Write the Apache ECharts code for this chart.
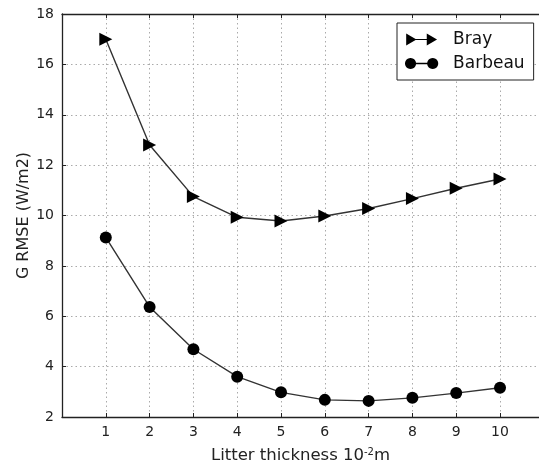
<!DOCTYPE html>
<html><head><meta charset="utf-8">
<script src="https://cdn.jsdelivr.net/npm/echarts@6/dist/echarts.min.js"></script>
<style>html,body{margin:0;padding:0;background:#fff}#c{width:539px;height:469px}</style>
</head><body><div id="c"></div>
<script>
const thickness = [1,2,3,4,5,6,7,8,9,10];
const bray = [17.0,12.8,10.75,9.93,9.78,9.98,10.28,10.67,11.08,11.45];
const barbeau = [9.13,6.37,4.69,3.6,2.98,2.68,2.64,2.76,2.95,3.16];
const FONT = 'DejaVu Sans';
const chart = echarts.init(document.getElementById('c'), null, {renderer:'canvas'});
const gridLine = {show:true, lineStyle:{color:'#aaa', type:[1.5,3], width:1}};
function disc(cx, cy, r){
  let s = '';
  for (let k = 0; k < 24; k++) {
    const a = k / 24 * Math.PI * 2;
    s += (k ? ' L' : 'M') + (cx + r * Math.cos(a)).toFixed(2) + ',' + (cy + r * Math.sin(a)).toFixed(2);
  }
  return s + ' Z ';
}
const triIcon = 'path://M0,0 L12,7 L0,14 Z M6,6.3 L30,6.3 L30,7.7 L6,7.7 Z M24,0 L36,7 L24,14 Z';
const dotIcon = 'path://' + disc(6,7,6) + 'M6,6.3 L30,6.3 L30,7.7 L6,7.7 Z ' + disc(30,7,6) + 'M0,0.5 L0.01,0.5 Z M0,13.5 L0.01,13.5 Z';
const XMAX = 10.89;
chart.setOption({
  animation:false,
  backgroundColor:'#fff',
  grid:{left:62, top:14, right:0, bottom:47},
  legend:{
    left:397, top:23, orient:'vertical', itemWidth:37, itemHeight:12, itemGap:7,
    backgroundColor:'#fff', borderColor:'#222', borderWidth:1, padding:[8,9,8,8],
    borderRadius:0,
    textStyle:{fontFamily:FONT, fontSize:17, color:'#111', padding:[0,0,0,8]},
    data:[{name:'Bray', icon:triIcon},{name:'Barbeau', icon:dotIcon}]
  },
  xAxis:[{
    type:'value', min:0, max:XMAX, interval:1,
    axisLine:{show:true, lineStyle:{color:'#222', width:1.3}},
    axisTick:{show:true, inside:true, length:4, lineStyle:{color:'#222'}},
    axisLabel:{fontFamily:FONT, fontSize:14, color:'#222', margin:8, showMaxLabel:false,
      formatter:v => (v>=1 && v<=10) ? String(v) : ''},
    splitLine:gridLine,
    name:'{a|Litter thickness 10}{c|-2}{a|m}', nameLocation:'middle', nameGap:30,
    nameTextStyle:{rich:{
      a:{fontFamily:FONT, fontSize:16.5, color:'#222'},
      c:{fontFamily:FONT, fontSize:10, color:'#222', verticalAlign:'top', padding:[0,0,7,0]}
    }}
  },{
    type:'value', min:0, max:XMAX, interval:1, position:'top',
    axisLine:{show:true, lineStyle:{color:'#222', width:1.3}},
    axisTick:{show:true, inside:true, length:4, lineStyle:{color:'#222'}},
    axisLabel:{show:false}, splitLine:{show:false}
  }],
  yAxis:{
    type:'value', min:2, max:18, interval:2,
    axisLine:{show:true, lineStyle:{color:'#222', width:1.3}},
    axisTick:{show:true, inside:true, length:4, lineStyle:{color:'#222'}},
    axisLabel:{fontFamily:FONT, fontSize:14, color:'#222', margin:8},
    splitLine:gridLine,
    name:'G RMSE (W/m2)', nameLocation:'middle', nameGap:30, nameMoveOverlap:false,
    nameTextStyle:{fontFamily:FONT, fontSize:16, color:'#222'}
  },
  series:[{
    name:'Bray', type:'line', data:thickness.map((x,i)=>[x,bray[i]]),
    symbol:'triangle', symbolRotate:-90, symbolSize:[13,13],
    lineStyle:{color:'#333', width:1.4},
    itemStyle:{color:'#000', borderWidth:0}
  },{
    name:'Barbeau', type:'line', data:thickness.map((x,i)=>[x,barbeau[i]]),
    symbol:'circle', symbolSize:12,
    lineStyle:{color:'#333', width:1.4},
    itemStyle:{color:'#000', borderWidth:0}
  }]
});
</script></body></html>
